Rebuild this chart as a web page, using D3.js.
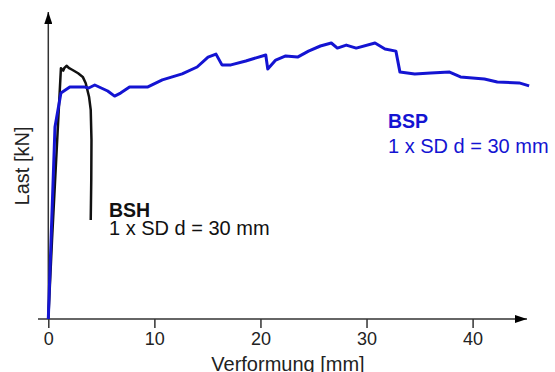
<!DOCTYPE html>
<html>
<head>
<meta charset="utf-8">
<script src="https://cdn.jsdelivr.net/npm/d3@7"></script>
<style>
  body { margin: 0; background: #fff; }
  svg { display: block; font-family: "Liberation Sans", Arial, sans-serif; }
</style>
</head>
<body>
<svg id="chart" width="555" height="372"></svg>
<script>
// Verformung [mm] / Last (relative, no y ticks)
const bspX = [0, 0.63, 1.19, 2.03, 3.44, 3.81, 4.38, 5.6, 6.25, 6.81, 7.66, 9.34, 10.75, 12.62, 14.03, 15.06, 15.81, 16.37, 17.22, 18.62, 20.5, 20.69, 21.44, 22.38, 23.5, 24.53, 25.65, 26.68, 27.25, 28.09, 29.03, 30.8, 31.74, 32.77, 33.15, 34.55, 36.05, 37.83, 38.86, 41.11, 42.33, 44.39, 45.33];
const bspY = [0, 64, 75.3, 77.3, 77.3, 77, 78, 76, 74.3, 75.3, 77.3, 77.3, 79.7, 81.7, 84, 87.3, 88.3, 84.7, 84.7, 86, 88, 83.3, 86.3, 87.7, 87.3, 89.3, 91, 92, 90.3, 91.3, 90.3, 92, 90, 89.3, 82.3, 81.7, 82, 82.3, 80.7, 80, 79, 78.7, 77.7];

const bshX = [0, 0.35, 1.19, 1.41, 1.5, 1.72, 1.97, 2.29, 2.81, 3.25, 3.53, 3.84, 4.0, 4.07, 4.05, 4.0];
const bshY = [0, 26.3, 83.6, 82.8, 83.6, 84.4, 83.6, 83, 81.9, 80.7, 78.6, 74.1, 69.7, 59.7, 46.3, 33];

const xTicks = [0, 10, 20, 30, 40];

const svg = d3.select("#chart");

const x = d3.scaleLinear().domain([0, 40]).range([48.3, 472.6]);
const y = d3.scaleLinear().domain([0, 100]).range([319, 19]);

const axisColor = "#333";

// arrow heads
const defs = svg.append("defs");
defs.append("marker")
    .attr("id", "arrow")
    .attr("viewBox", "0 0 12 8")
    .attr("refX", 12).attr("refY", 4)
    .attr("markerWidth", 12).attr("markerHeight", 8)
    .attr("markerUnits", "userSpaceOnUse")
    .attr("orient", "auto")
    .append("path")
    .attr("d", "M0,0 L12,4 L0,8 Z")
    .attr("fill", "#000");

// x axis line
svg.append("line")
    .attr("x1", 38).attr("y1", y(0))
    .attr("x2", 527).attr("y2", y(0))
    .attr("stroke", axisColor).attr("stroke-width", 1.5)
    .attr("marker-end", "url(#arrow)");

// y axis line
svg.append("line")
    .attr("x1", x(0)).attr("y1", y(0))
    .attr("x2", x(0)).attr("y2", 12)
    .attr("stroke", axisColor).attr("stroke-width", 1.5)
    .attr("marker-end", "url(#arrow)");

// ticks via d3 axis
const xAxis = svg.append("g")
    .attr("transform", "translate(0," + y(0) + ")")
    .call(d3.axisBottom(x).tickValues(xTicks).tickSize(9).tickPadding(4).tickFormat(d3.format("d")));
xAxis.select(".domain").remove();
xAxis.selectAll(".tick line").attr("stroke", axisColor).attr("stroke-width", 1.5);
xAxis.selectAll(".tick text")
    .attr("fill", "#222")
    .style("font-size", "18px")
    .style("font-family", "'Liberation Sans', Arial, sans-serif");

// axis titles
svg.append("text")
    .attr("x", 288).attr("y", 370.5)
    .attr("text-anchor", "middle")
    .attr("fill", "#222")
    .style("font-size", "20px")
    .text("Verformung [mm]");

svg.append("text")
    .attr("transform", "translate(28.5,166) rotate(-90)")
    .attr("text-anchor", "middle")
    .attr("fill", "#222")
    .style("font-size", "20px")
    .text("Last [kN]");

const line = d3.line().x(d => x(d[0])).y(d => y(d[1]));

// BSH (black)
svg.append("path")
    .datum(d3.zip(bshX, bshY))
    .attr("fill", "none")
    .attr("stroke", "#111")
    .attr("stroke-width", 2.5)
    .attr("stroke-linejoin", "round")
    .attr("d", line);

// BSP (blue)
svg.append("path")
    .datum(d3.zip(bspX, bspY))
    .attr("fill", "none")
    .attr("stroke", "#1414d2")
    .attr("stroke-width", 3)
    .attr("stroke-linejoin", "round")
    .attr("d", line);

// labels
svg.append("text")
    .attr("x", 109).attr("y", 216.5)
    .attr("fill", "#111")
    .style("font-size", "19.5px").style("font-weight", "bold")
    .text("BSH");
svg.append("text")
    .attr("x", 109).attr("y", 235)
    .attr("fill", "#111")
    .style("font-size", "20px")
    .text("1 x SD d = 30 mm");

svg.append("text")
    .attr("x", 388).attr("y", 128)
    .attr("fill", "#1414d2")
    .style("font-size", "19.5px").style("font-weight", "bold")
    .text("BSP");
svg.append("text")
    .attr("x", 388).attr("y", 153)
    .attr("fill", "#1414d2")
    .style("font-size", "20px")
    .text("1 x SD d = 30 mm");
</script>
</body>
</html>
